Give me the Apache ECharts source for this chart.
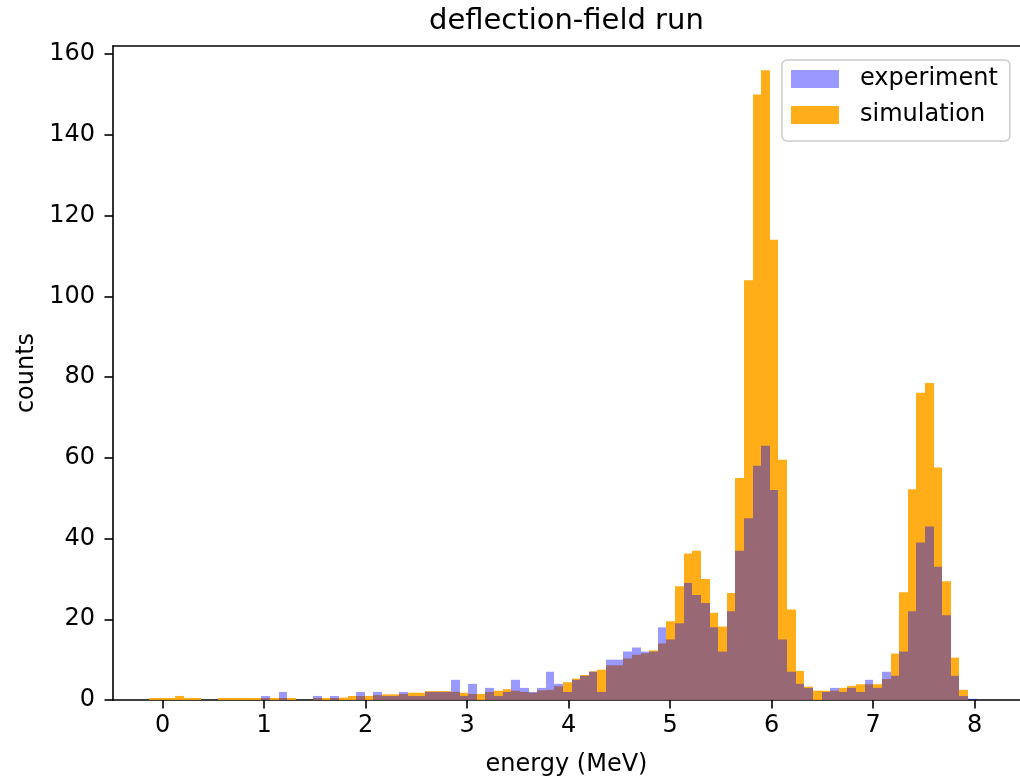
<!DOCTYPE html>
<html>
<head>
<meta charset="utf-8">
<script src="https://cdn.jsdelivr.net/npm/echarts@6/dist/echarts.min.js"></script>
<style>
  html, body { margin: 0; padding: 0; background: #fff; }
  #chart { width: 1020px; height: 782px; }
</style>
</head>
<body>
<div id="chart"></div>
<script>
// histogram bins (MeV), shared by both series
const binStart = -0.132
const binWidth = 0.08491

// counts per bin
const simulation = [
  0.5, 0.5, 0.5, 1.0, 0.5, 0.5, 0, 0, 0.5, 0.5,
  0.5, 0.5, 0.5, 0.5, 0.5, 0.5, 0.5, 0, 0, 0.5,
  0.5, 0.5, 0.6, 1.0, 1.0, 1.0, 1.2, 1.4, 1.4, 1.5,
  1.8, 1.8, 2.2, 2.2, 2.2, 2.0, 1.8, 1.5, 1.5, 2.0,
  2.3, 2.7, 2.3, 2.0, 1.8, 2.4, 2.5, 3.4, 4.4, 5.3,
  6.2, 7.1, 7.5, 8.6, 8.6, 10.3, 11.2, 11.6, 12.3, 14.0,
  19.5, 28.2, 36.3, 37.0, 30.0, 21.6, 18.2, 26.5, 55.0, 104.0,
  150.0, 156.0, 114.0, 59.5, 22.4, 7.2, 3.3, 2.3, 2.3, 2.3,
  3.0, 3.5, 3.9, 3.9, 3.9, 5.2, 11.5, 26.7, 52.2, 76.1,
  78.5, 57.6, 29.4, 10.5, 2.5, 0
]
const experiment = [
  0, 0, 0, 0, 0, 0, 0, 0, 0, 0,
  0, 0, 0, 1, 0, 2, 0, 0, 0, 1,
  0, 1, 0, 0, 2, 0, 2, 1, 1, 2,
  1, 1, 2, 2, 2, 5, 1, 4, 0, 3,
  1, 2, 5, 3, 2, 3, 7, 4, 2, 5,
  6, 7, 2, 10, 10, 12, 13, 12, 12, 18,
  15, 19, 29, 26, 24, 18, 12, 22, 37, 45,
  58, 63, 52, 15, 7, 4, 3, 0, 2, 3,
  2, 3, 2, 5, 3, 7, 6, 12, 22, 39,
  43, 33, 21, 6, 1, 0.3
]

const xTicks = [0, 1, 2, 3, 4, 5, 6, 7, 8]
const yTicks = [0, 20, 40, 60, 80, 100, 120, 140, 160]

const FONT = 'DejaVu Sans'
const X_MIN = -0.4897
const X_MAX = 8.446

function toBins(counts) {
  return counts.map((c, i) => [binStart + i * binWidth, binStart + (i + 1) * binWidth, c])
}

function histSeries(name, counts, color) {
  return {
    name: name,
    type: 'custom',
    itemStyle: { color: color },
    encode: { x: [0, 1], y: 2 },
    data: toBins(counts),
    renderItem(params, api) {
      const top = api.coord([api.value(0), api.value(2)])
      const bottom = api.coord([api.value(1), 0])
      // snap the vertical edges so neighbouring bars meet without seams
      const x0 = Math.round(top[0])
      const x1 = Math.round(bottom[0])
      return {
        type: 'rect',
        shape: { x: x0, y: top[1], width: x1 - x0, height: bottom[1] - top[1] },
        style: { fill: color }
      }
    }
  }
}

const chart = echarts.init(document.getElementById('chart'), null, { renderer: 'canvas' })

chart.setOption({
  animation: false,
  backgroundColor: '#ffffff',
  textStyle: { fontFamily: FONT },
  title: {
    text: 'deflection-field run',
    left: 429,
    top: 7,
    padding: 0,
    textStyle: { fontFamily: FONT, fontSize: 29, fontWeight: 'normal', color: '#000' }
  },
  grid: {
    left: 113,
    right: 0,
    top: 46,
    bottom: 79
  },
  legend: {
    orient: 'vertical',
    left: 782,
    top: 60,
    padding: [7, 12, 14, 9],
    itemWidth: 48,
    itemHeight: 18,
    itemGap: 12,
    icon: 'rect',
    backgroundColor: 'rgba(255,255,255,0.8)',
    borderColor: '#cccccc',
    borderWidth: 1.5,
    borderRadius: 5,
    data: ['experiment', 'simulation'],
    textStyle: { fontFamily: FONT, fontSize: 24, color: '#000', padding: [0, 0, 0, 16] }
  },
  xAxis: [
    {
      type: 'value',
      min: X_MIN,
      max: X_MAX,
      name: 'energy (MeV)',
      nameLocation: 'middle',
      nameGap: 53,
      nameTextStyle: { fontFamily: FONT, fontSize: 24, color: '#000' },
      axisLine: { show: true, onZero: false, lineStyle: { color: '#000', width: 1.6 } },
      axisTick: { show: true, length: 8.5, customValues: xTicks, lineStyle: { color: '#000', width: 1.6 } },
      axisLabel: { customValues: xTicks, margin: 14, fontFamily: FONT, fontSize: 24, color: '#000' },
      splitLine: { show: false }
    },
    {
      // top spine only
      type: 'value',
      position: 'top',
      min: X_MIN,
      max: X_MAX,
      axisLine: { show: true, onZero: false, lineStyle: { color: '#000', width: 1.6 } },
      axisTick: { show: false },
      axisLabel: { show: false },
      splitLine: { show: false }
    }
  ],
  yAxis: {
    type: 'value',
    min: 0,
    max: 162,
    name: 'counts',
    nameLocation: 'middle',
    nameGap: 70,
    nameRotate: 90,
    nameTextStyle: { fontFamily: FONT, fontSize: 24, color: '#000' },
    axisLine: { show: true, onZero: false, lineStyle: { color: '#000', width: 1.6 } },
    axisTick: { show: true, length: 8.5, customValues: yTicks, lineStyle: { color: '#000', width: 1.6 } },
    axisLabel: { customValues: yTicks, margin: 18, padding: [5, 0, 0, 0], fontFamily: FONT, fontSize: 24, color: '#000' },
    splitLine: { show: false }
  },
  series: [
    histSeries('simulation', simulation, 'rgba(255,165,0,0.9)'),
    histSeries('experiment', experiment, 'rgba(0,0,255,0.4)')
  ]
})
</script>
</body>
</html>
